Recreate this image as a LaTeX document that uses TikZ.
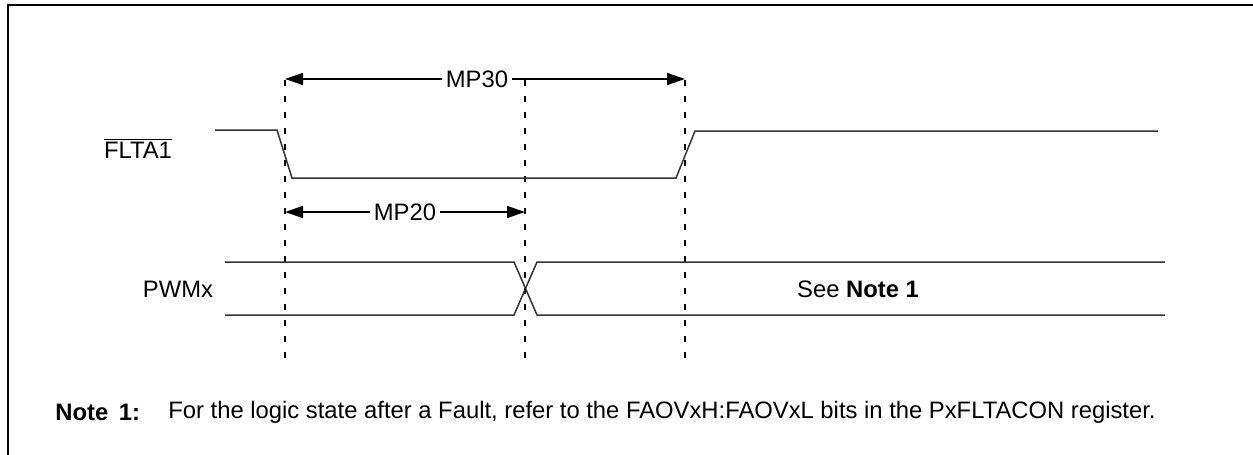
\documentclass[tikz,border=0pt]{standalone}
\usepackage{fontspec}
\setmainfont{Liberation Sans}
\usetikzlibrary{positioning, arrows.meta}

\begin{document}
\begin{tikzpicture}[
  x=0.5pt, y=-0.5pt,
  sigline/.style={line width=0.75pt, color=black!80},
  edgeline/.style={line width=1pt, dash pattern=on 3pt off 5pt},
  dimarr/.style={{Triangle[length=9pt,width=6pt]}-{Triangle[length=9pt,width=6pt]}, line width=0.75pt},
  dimlbl/.style={font=\fontsize{11.9}{14}\selectfont, fill=white, inner sep=2pt},
  lbl/.style={font=\fontsize{11.9}{14}\selectfont, inner sep=0pt},
]
  \useasboundingbox (0,0) rectangle (1253,455);

  % frame (top and left only)
  \draw[line width=1pt] (8,455) -- (8,5) -- (1253,5);

  % time marks
  \coordinate (t1a) at (285,80);  \coordinate (t1b) at (285,364);
  \coordinate (t2a) at (525,80);  \coordinate (t2b) at (525,364);
  \coordinate (t3a) at (685,80);  \coordinate (t3b) at (685,364);
  \draw[edgeline] (t1a) -- (t1b);
  \draw[edgeline] (t2a) -- (t2b);
  \draw[edgeline] (t3a) -- (t3b);

  % FLTA1 waveform
  \node[lbl] (flta) at (138,148) {$\overline{\hbox{FLTA1}}$};
  \draw[sigline] (215,130) -- (277,130) -- (292,178) -- (676,178)
    -- (695,131) -- (1158,131);

  % PWMx waveform
  \node[lbl] (pwm) at (178,289) {PWMx};
  \draw[sigline] (225,262) -- (514,262) -- (537,315) -- (1165,315);
  \draw[sigline] (225,315) -- (514,315) -- (537,262) -- (1165,262);
  \node[lbl] (seenote) at (858,289) {See \textbf{Note 1}};

  % timing parameters
  \coordinate (mp30a) at (285,79);  \coordinate (mp30b) at (685,79);
  \draw[dimarr] (mp30a) -- (mp30b) node[pos=0.48, dimlbl] {MP30};
  \coordinate (mp20a) at (285,212); \coordinate (mp20b) at (525,212);
  \draw[dimarr] (mp20a) -- (mp20b) node[midway, dimlbl] {MP20};

  % note
  \node[lbl, anchor=west] (notehead) at (55,412) {\textbf{Note\hspace{0.45em}1:}};
  \node[lbl, anchor=west] (notetext) at (168,412)
    {For the logic state after a Fault, refer to the FAOVxH:FAOVxL bits in the PxFLTACON register.};
\end{tikzpicture}
\end{document}
